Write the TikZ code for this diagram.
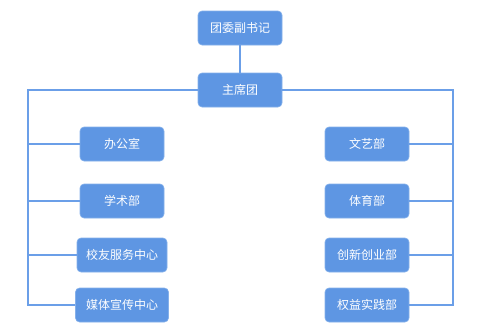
\documentclass[tikz,border=0pt]{standalone}
\usepackage{fontspec}
\newfontfamily\cjk{Noto Sans CJK SC}
\usetikzlibrary{positioning}
\definecolor{boxblue}{HTML}{5E96E3}
\definecolor{edgeblue}{HTML}{85B0EA}
\definecolor{lineblue}{HTML}{6B9FE8}
\tikzset{
  org/.style={draw=edgeblue, line width=0.6pt, fill=boxblue, rounded corners=4pt, text=white, font=\cjk\fontsize{12}{14}\selectfont, minimum width=84pt, minimum height=34pt, inner sep=2pt},
  link/.style={draw=lineblue, line width=1.5pt}}

\begin{document}
\begin{tikzpicture}[x=1pt, y=-1pt]
\useasboundingbox (0,0) rectangle (480,335);
\node[org] (sec) at (240,28) {团委副书记};
\node[org] (pres) at (240,90) {主席团};
% left column
\node[org] (ban) at (122,144) {办公室};
\node[org] (xue) at (122,201) {学术部};
\node[org, minimum width=90pt] (xiao) at (122,255) {校友服务中心};
\node[org, minimum width=93pt] (mei) at (122,305) {媒体宣传中心};
% right column
\node[org] (wen) at (367,144) {文艺部};
\node[org] (ti) at (367,201) {体育部};
\node[org] (chuang) at (367,255) {创新创业部};
\node[org] (quan) at (367,305) {权益实践部};
\coordinate (lt) at (28,90);
\coordinate (lb) at (28,305);
\coordinate (rt) at (453,90);
\coordinate (rb) at (453,305);
\draw[link] (sec) -- (pres);
\draw[link] (pres.west) -- (lt) -- (lb) -- (mei.west);
\draw[link] (pres.east) -- (rt) -- (rb) -- (quan.east);
\foreach \n in {ban,xue,xiao} \draw[link] (lt |- \n.west) -- (\n.west);
\foreach \n in {wen,ti,chuang} \draw[link] (rt |- \n.east) -- (\n.east);
\end{tikzpicture}
\end{document}
